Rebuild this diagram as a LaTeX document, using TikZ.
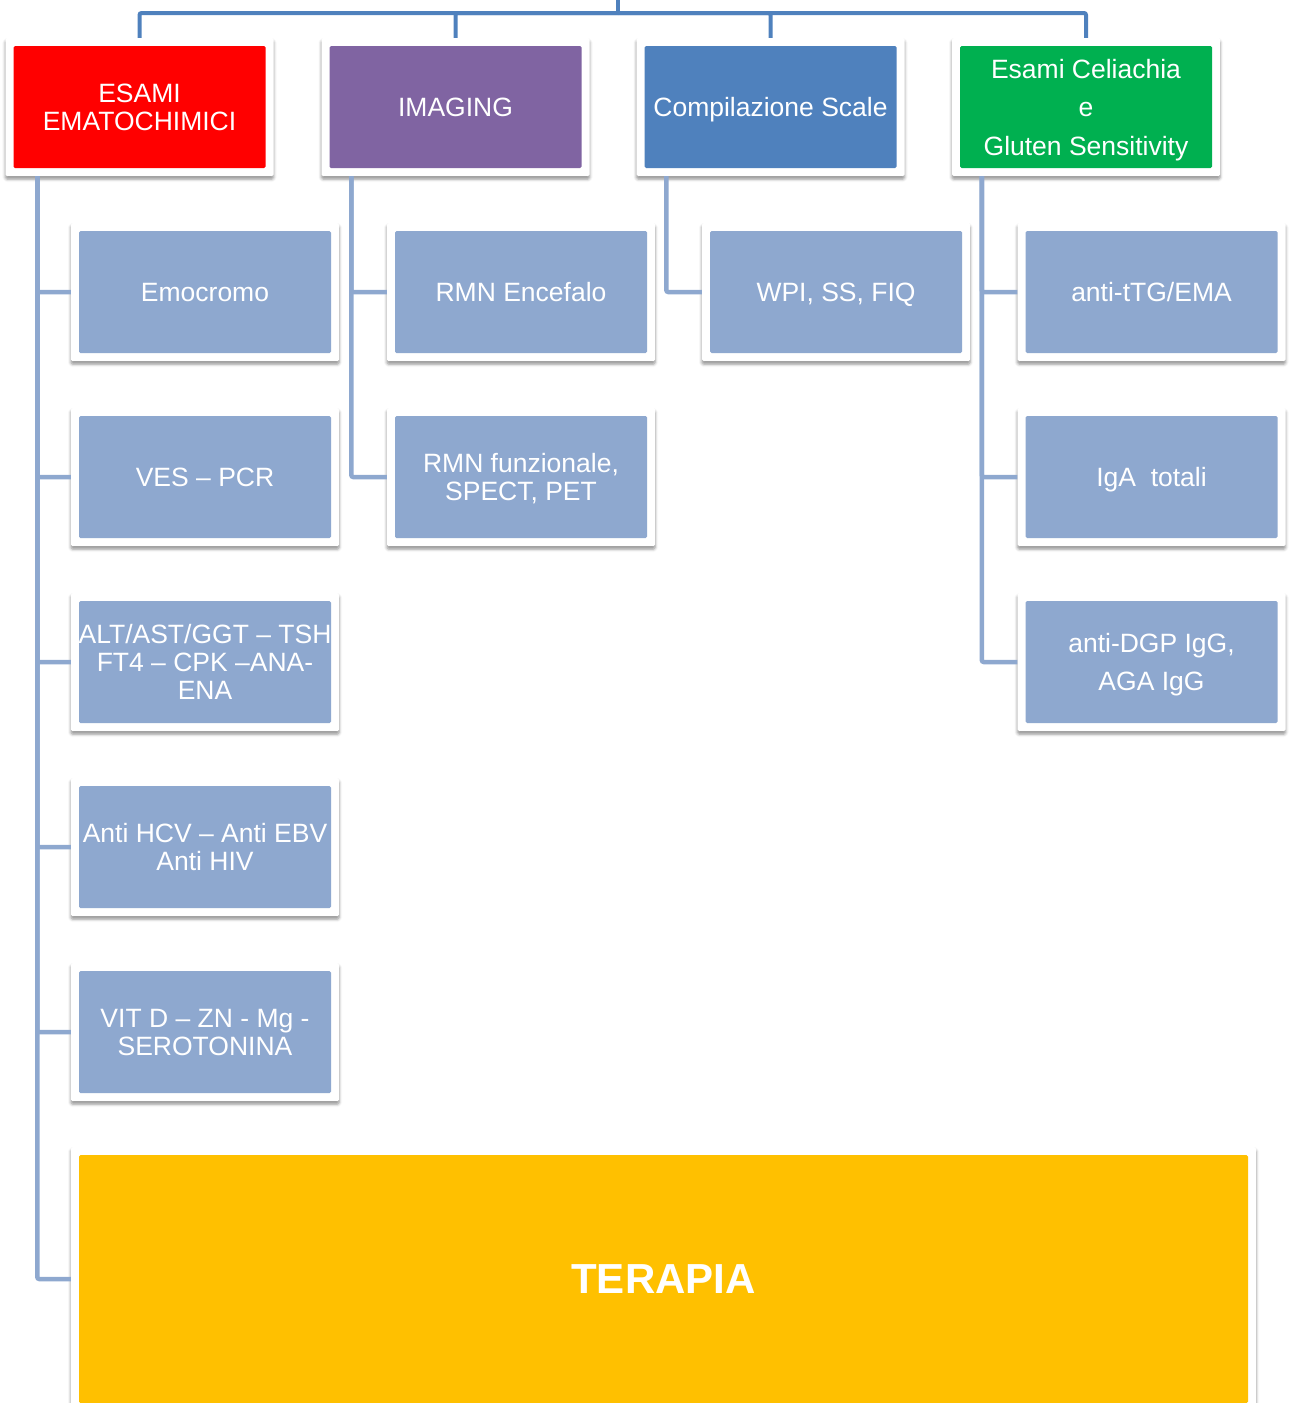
\documentclass[tikz,border=0pt]{standalone}
\usepackage{fontspec}
\setmainfont{Liberation Sans}
\usetikzlibrary{shadows.blur}
\definecolor{busblue}{RGB}{79,129,189}
\definecolor{childblue}{RGB}{142,168,207}
\definecolor{esamired}{RGB}{255,0,0}
\definecolor{imagingpurple}{RGB}{128,100,162}
\definecolor{scaleblue}{RGB}{79,129,189}
\definecolor{celiachiagreen}{RGB}{0,176,80}
\definecolor{terapiayellow}{RGB}{255,192,0}
\tikzset{
  tile/.style={fill=white, rounded corners=1.5pt, inner sep=0pt,
    minimum width=268pt, minimum height=138pt, align=center, text=white,
    text depth=0pt, font=\fontsize{26.5}{28}\selectfont,
    blur shadow={shadow xshift=0pt, shadow yshift=-3pt, shadow blur radius=3pt, shadow opacity=45},
    path picture={\fill[#1] ([shift={(8pt,-8pt)}]path picture bounding box.north west)
      rectangle ([shift={(-8pt,8pt)}]path picture bounding box.south east);}},
  busline/.style={busblue, line width=4pt, rounded corners=2pt},
  childline/.style={childblue, line width=4.5pt, rounded corners=2pt}
}

\begin{document}
\begin{tikzpicture}[x=1pt,y=-1pt]
			\useasboundingbox (0,0) rectangle (1288,1403);
			\coordinate (top) at (618,0);
			\coordinate (bus) at (618,13);
			% first row
			\node[tile=esamired] (esami) at (139.5,107) {ESAMI\\EMATOCHIMICI};
			\node[tile=imagingpurple] (imaging) at (455.5,107) {IMAGING};
			\node[tile=scaleblue] (scale) at (770.5,107) {Compilazione Scale};
			\node[tile=celiachiagreen] (celiachia) at (1086,107) {Esami Celiachia\\[10.5pt]e\\[10.5pt]Gluten Sensitivity};
			
			% esami ematochimici
			\node[tile=childblue] (emocromo) at (205,292) {Emocromo};
			\node[tile=childblue] (ves) at (205,477) {VES – PCR};
			\node[tile=childblue] (alt) at (205,662) {ALT/AST/GGT – TSH\\FT4 – CPK –ANA-\\ENA};
			\node[tile=childblue] (antivir) at (205,847) {Anti HCV – Anti EBV\\Anti HIV};
			\node[tile=childblue] (vitd) at (205,1032) {VIT D – ZN - Mg -\\SEROTONINA};
			
			% imaging
			\node[tile=childblue] (encefalo) at (521,292) {RMN Encefalo};
			\node[tile=childblue] (funzionale) at (521,477) {RMN funzionale,\\SPECT, PET};
			
			% scale
			\node[tile=childblue] (wpi) at (836,292) {WPI, SS, FIQ};
			
			% celiachia
			\node[tile=childblue] (ttg) at (1151.5,292) {anti-tTG/EMA};
			\node[tile=childblue] (iga) at (1151.5,477) {IgA\ \ totali};
			\node[tile=childblue] (dgp) at (1151.5,662) {anti-DGP IgG,\\[10pt]AGA IgG};
			
			\node[tile=terapiayellow, minimum width=1185pt, minimum height=264pt,
				font=\bfseries\fontsize{42}{44}\selectfont] (terapia) at (663.5,1279) {TERAPIA};
			
			\draw[busline] (top) -- (bus);
			\foreach \n in {esami,imaging,scale,celiachia}
				\draw[busline] (bus) -| (\n.north);
			\foreach \c in {emocromo,ves,alt,antivir,vitd,terapia}
				\draw[childline] ([xshift=32pt]esami.south west) |- (\c.west);
			\foreach \c in {encefalo,funzionale}
				\draw[childline] ([xshift=30pt]imaging.south west) |- (\c.west);
			\draw[childline] ([xshift=30pt]scale.south west) |- (wpi.west);
			\foreach \c in {ttg,iga,dgp}
				\draw[childline] ([xshift=30pt]celiachia.south west) |- (\c.west);
		\end{tikzpicture}
\end{document}
